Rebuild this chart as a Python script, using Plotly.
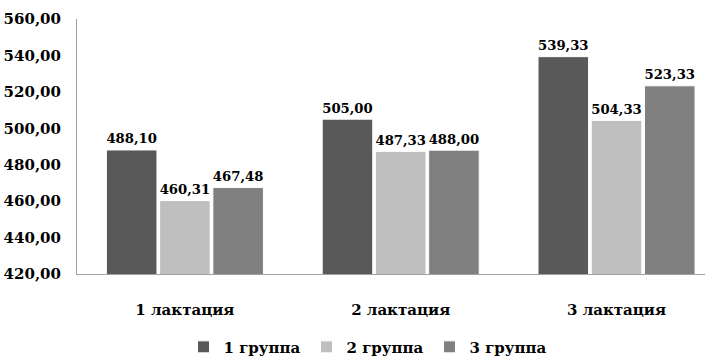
import plotly.graph_objects as go

categories = ["1 лактация", "2 лактация", "3 лактация"]
series_names = ["1 группа", "2 группа", "3 группа"]
group1 = [488.10, 505.00, 539.33]
group2 = [460.31, 487.33, 504.33]
group3 = [467.48, 488.00, 523.33]
colors = ["#595959", "#BFBFBF", "#808080"]

FONT = dict(family="DejaVu Serif", size=15, color="#000000", weight="bold")

fig = go.Figure()
for name, vals, col in zip(series_names, [group1, group2, group3], colors):
    fig.add_trace(go.Bar(
        x=categories, y=vals, name=name,
        marker=dict(color=col, line=dict(color="#FFFFFF", width=1)),
        texttemplate="%{y:.2f}", textposition="outside",
        textfont=FONT, cliponaxis=False,
    ))

fig.update_layout(
    width=705, height=356,
    margin=dict(l=77, r=0, t=19, b=82, autoexpand=False),
    paper_bgcolor="white", plot_bgcolor="white",
    separators=", ",
    barmode="group", bargap=0.26, bargroupgap=0.05,
    font=FONT,
    showlegend=True,
    legend=dict(orientation="h", xref="container", yref="container",
                x=0.522, xanchor="center", y=0.025, yanchor="middle",
                font=FONT, itemwidth=30, entrywidth=78, traceorder="normal"),
)
fig.update_xaxes(
    type="category", range=[-0.5, 2.41], automargin=False,
    showline=True, linecolor="#A0A0A0", linewidth=1,
    ticks="", ticklabelstandoff=22, tickfont=FONT, showgrid=False,
)
fig.update_yaxes(
    range=[420, 560], dtick=20, tick0=420, tickformat=".2f", automargin=False,
    showline=True, linecolor="#A0A0A0", linewidth=1,
    showgrid=False, zeroline=False, ticks="", ticklabelstandoff=12, tickfont=FONT,
)
fig.write_html("out.html")
